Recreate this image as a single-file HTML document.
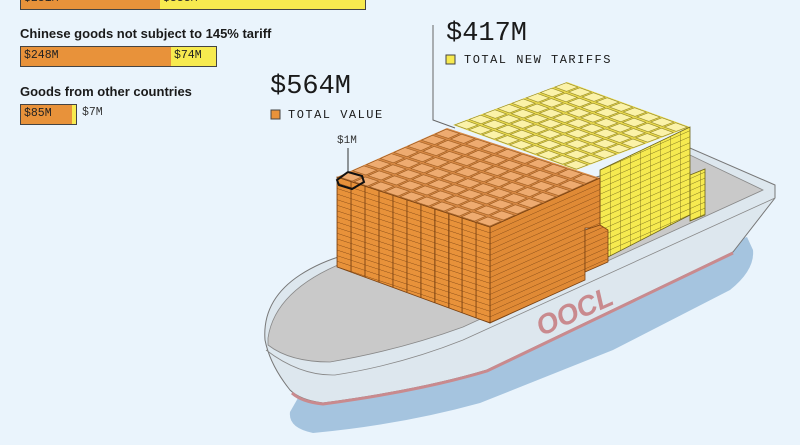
<!DOCTYPE html>
<html><head><meta charset="utf-8"><style>
html,body{margin:0;padding:0;background:#eaf4fc;}
#c{position:relative;width:800px;height:445px;overflow:hidden;background:#eaf4fc;font-family:"Liberation Sans",sans-serif;}
.lbl{position:absolute;font-weight:bold;font-size:13px;color:#1a1a1a;}
.bar{position:absolute;height:21px;border:1.5px solid #444;box-sizing:border-box;font-family:"Liberation Mono",monospace;font-size:11.5px;line-height:18px;color:#222;padding-left:3px;}
.mono{position:absolute;font-family:"Liberation Mono",monospace;color:#1a1a1a;}
</style></head><body><div id="c">
<svg width="800" height="445" style="position:absolute;left:0;top:0">
<defs>
<pattern id="oTop" width="1" height="1" patternUnits="userSpaceOnUse" patternTransform="matrix(15.3,5,13.75,-6.1,337,177)">
<rect width="1" height="1" fill="#d98a45"/><rect x="0.06" y="0.08" width="0.86" height="0.8" fill="#eeab70" stroke="#9a5a20" stroke-width="0.06"/></pattern>
<pattern id="oFront" width="1" height="1" patternUnits="userSpaceOnUse" patternTransform="matrix(13.9,4.55,0,5.6,337,177)">
<rect width="1" height="1" fill="#e8923a"/><line x1="0" y1="0" x2="1" y2="0" stroke="#7a4212" stroke-width="0.15"/><line x1="0" y1="0" x2="0" y2="1" stroke="#7a4212" stroke-width="0.06"/></pattern>
<pattern id="oSide" width="1" height="1" patternUnits="userSpaceOnUse" patternTransform="matrix(11,-4.9,0,5.6,490,227)">
<rect width="1" height="1" fill="#e08a35"/><line x1="0" y1="0" x2="1" y2="0" stroke="#7a4212" stroke-width="0.15"/></pattern>
<pattern id="yTop" width="1" height="1" patternUnits="userSpaceOnUse" patternTransform="matrix(13.7,5,14.25,-5.4,453,125)">
<rect width="1" height="1" fill="#ecdc50"/><rect x="0.06" y="0.08" width="0.86" height="0.8" fill="#fbf2a8" stroke="#8c8020" stroke-width="0.06"/></pattern>
<pattern id="ySide" width="1" height="1" patternUnits="userSpaceOnUse" patternTransform="matrix(10,-4.4,0,6,600,170)">
<rect width="1" height="1" fill="#f6ea50"/><line x1="0" y1="0" x2="1" y2="0" stroke="#6e6418" stroke-width="0.15"/><line x1="0" y1="0" x2="0" y2="1" stroke="#6e6418" stroke-width="0.08"/></pattern>
</defs>
<!-- shadow -->
<path d="M298,398 L290,412 Q288,428 313,433 Q400,425 480,403 L613,350 L730,290 Q755,270 753,250 L747,237 Z" fill="#a5c4df"/>
<!-- hull -->
<path d="M265,340 Q262,300 300,275 Q320,262 345,255 L690,148 L775,185 L775,198 L733,252 L487,370 Q420,390 323,403 Q300,400 290,390 Q270,365 265,340Z" fill="#dde7ee" stroke="#777" stroke-width="1"/>
<path d="M268,338 Q275,290 345,262 L690,155 L763,190 L463,327 Q400,350 330,362 Q290,362 268,345Z" fill="#c9c9c9" stroke="#888" stroke-width="0.8"/>
<path d="M266,350 Q300,376 335,375 Q400,365 463,340 L775,198" fill="none" stroke="#888" stroke-width="0.8"/>
<path d="M292,393 Q302,402 323,404 Q420,391 487,371 L733,253" fill="none" stroke="#c98a8e" stroke-width="3"/>
<text x="532" y="318" transform="rotate(-24 580 305)" font-family="Liberation Sans,sans-serif" font-weight="bold" font-style="italic" font-size="28" fill="#c98a8e">OOCL</text>
<!-- yellow block -->
<polygon points="453,125 567,82 690,127 576,170" fill="url(#yTop)"/>
<polygon points="600,170 690,127 690,215 608,257 600,257" fill="url(#ySide)" stroke="#6e6418" stroke-width="0.8"/>
<polygon points="690,175 705,169 705,215 690,221" fill="url(#ySide)" stroke="#6e6418" stroke-width="0.8"/>
<!-- orange block -->
<polygon points="337,177 447,128 600,178 490,227" fill="url(#oTop)"/>
<polygon points="490,227 600,178 600,228 585,228 585,280 490,323" fill="url(#oSide)" stroke="#7a4212" stroke-width="0.8"/>
<polygon points="585,230 600,225 608,230 608,262 585,272" fill="url(#oSide)" stroke="#7a4212" stroke-width="0.8"/>
<polygon points="337,177 490,227 490,323 337,267" fill="url(#oFront)" stroke="#7a4212" stroke-width="0.8"/>
<g stroke="#7a4212" stroke-width="0.8">
<line x1="351" y1="181.5" x2="351" y2="272"/><line x1="365" y1="186" x2="365" y2="277"/><line x1="379" y1="190.5" x2="379" y2="282"/><line x1="393" y1="195" x2="393" y2="287"/><line x1="407" y1="200" x2="407" y2="292"/><line x1="421" y1="204.5" x2="421" y2="298"/><line x1="435" y1="209" x2="435" y2="303"/><line x1="449" y1="213.5" x2="449" y2="308"/><line x1="462" y1="218" x2="462" y2="313"/><line x1="476" y1="222.5" x2="476" y2="318"/>
</g>
<!-- $1M highlight -->
<polygon points="337,180 348,172 362,176 364,182 352,189 339,185" fill="none" stroke="#111" stroke-width="2"/>
<line x1="348" y1="148" x2="348" y2="172" stroke="#333" stroke-width="1"/>
<!-- leader -->
<polyline points="433,25 433,120 455,128" fill="none" stroke="#666" stroke-width="1"/>
<rect x="271" y="110" width="9" height="9" fill="#e8923a" stroke="#444"/>
<rect x="446" y="55" width="9" height="9" fill="#f7ea4f" stroke="#444"/>
</svg>
<div class="bar" style="left:20px;top:-11px;width:142px;background:#e8923a;">$231M</div>
<div class="bar" style="left:160px;top:-11px;width:206px;background:#f7ea4f;border-left:none;">$333M</div>
<div class="lbl" style="left:20px;top:26px;">Chinese goods not subject to 145% tariff</div>
<div class="bar" style="left:20px;top:46px;width:153px;background:#e8923a;">$248M</div>
<div class="bar" style="left:171px;top:46px;width:46px;background:#f7ea4f;border-left:none;">$74M</div>
<div class="lbl" style="left:20px;top:84px;">Goods from other countries</div>
<div class="bar" style="left:20px;top:104px;width:54px;background:#e8923a;">$85M</div>
<div class="bar" style="left:72px;top:104px;width:5px;background:#f7ea4f;border-left:none;padding:0"></div>
<div class="mono" style="left:82px;top:106px;font-size:11.5px;color:#333">$7M</div>
<div class="mono" style="left:270px;top:72px;font-size:27px;">$564M</div>
<div class="mono" style="left:288px;top:108px;font-size:12px;letter-spacing:1.5px">TOTAL VALUE</div>
<div class="mono" style="left:446px;top:19px;font-size:27px;">$417M</div>
<div class="mono" style="left:464px;top:53px;font-size:12px;letter-spacing:1.5px">TOTAL NEW TARIFFS</div>
<div class="mono" style="left:337px;top:135px;font-size:11px;color:#333">$1M</div>
</div></body></html>
